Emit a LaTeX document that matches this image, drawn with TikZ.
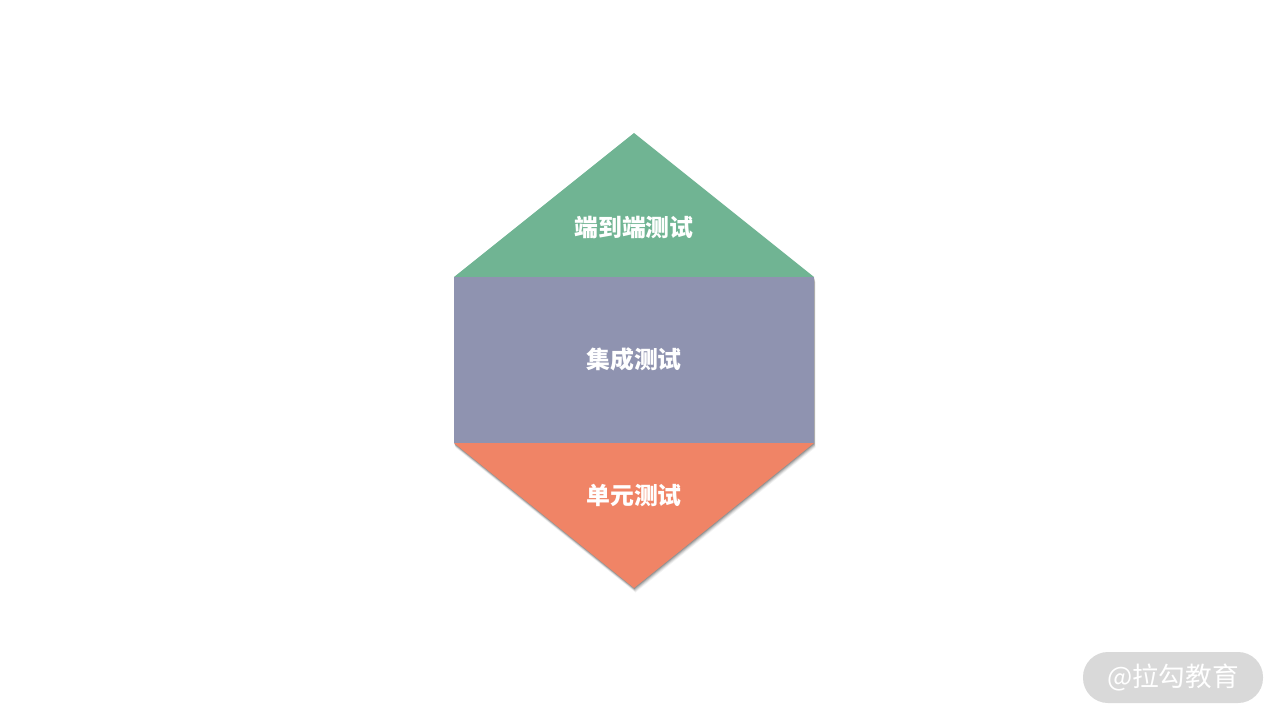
\documentclass[tikz,border=0pt]{standalone}
\usepackage{fontspec}
\usetikzlibrary{calc}
\newfontfamily\cjk{Noto Sans CJK SC}
\definecolor{topgreen}{HTML}{70B493}
\definecolor{midpurple}{HTML}{8F93B0}
\definecolor{botorange}{HTML}{F08466}
\definecolor{pillgray}{HTML}{D9D9D9}
\tikzset{
  lbl/.style={text=white, font=\cjk\bfseries\fontsize{17.9pt}{20pt}\selectfont, inner sep=0pt},
  wm/.style={text=white, font=\cjk\fontsize{20pt}{22pt}\selectfont, inner sep=0pt},
}
\begin{document}
\begin{tikzpicture}[x=0.75pt,y=-0.75pt]
\useasboundingbox[fill=white] (0,0) rectangle (1280,720);
% soft shadow
\foreach \o/\op in {5/0.05,4/0.07,3/0.1,2/0.13,1/0.16}{
  \fill[black,opacity=\op] ($(454,277)+(\o*0.3,\o*0.9)$) -- ($(814,277)+(\o*0.3,\o*0.9)$) -- ($(814,443)+(\o*0.3,\o*0.9)$) -- ($(634,588)+(\o*0.3,\o*0.9)$) -- ($(454,443)+(\o*0.3,\o*0.9)$) -- cycle;
}
\fill[topgreen] (454,277) coordinate (tl) -- (634,133) coordinate (apex) -- (814,277) coordinate (tr) -- cycle;
\fill[midpurple] (454,277) rectangle (814,443);
\fill[botorange] (454,443) -- (814,443) -- (634,588) coordinate (bottom) -- cycle;
\node[lbl] (top) at (634,228) {端到端测试};
\node[lbl] (mid) at (634,359) {集成测试};
\node[lbl] (bot) at (634,495) {单元测试};
\fill[pillgray] (1083,652) [rounded corners=25*0.75pt] rectangle (1263,703);
\node[wm] (wmk) at (1173,678) {@拉勾教育};
\end{tikzpicture}
\end{document}
